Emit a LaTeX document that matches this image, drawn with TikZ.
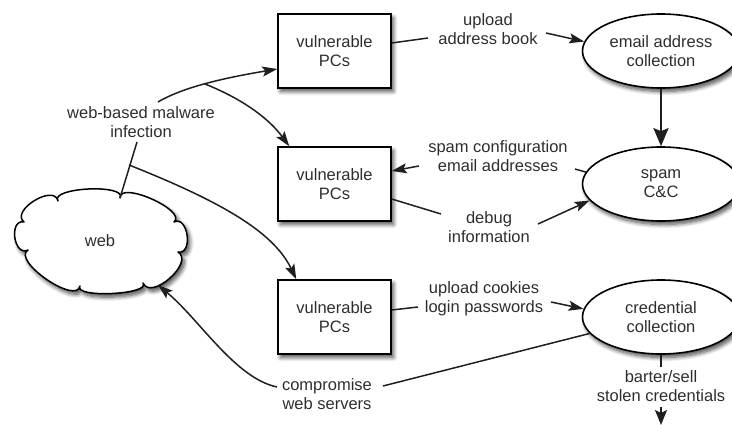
\documentclass[tikz,border=0pt]{standalone}
\usepackage{fontspec}
\setmainfont{Liberation Sans}
\usetikzlibrary{shapes.geometric,arrows.meta,shadows.blur,calc}
\begin{document}
\begin{tikzpicture}[x=1pt,y=-1pt,
  every node/.style={font=\fontsize{16.5}{19}\selectfont, text=black!82},
  shad/.style={blur shadow={shadow xshift=2.5pt,shadow yshift=-3.5pt,shadow blur steps=8,shadow blur radius=4pt,shadow opacity=70}},
  pcbox/.style={draw, line width=1.5pt, fill=white, minimum width=113pt, minimum height=74pt, align=center, shad},
  ell/.style={ellipse, draw, line width=1.6pt, fill=white, minimum width=157pt, minimum height=74pt, align=center, inner sep=0pt, shad},
  cloudline/.style={draw, line width=1.5pt, fill=white, line join=round, shad},
  lbl/.style={align=center, inner sep=0pt},
  conn/.style={line width=1.5pt, draw=black!88},
  arr/.style={conn, -{Stealth[length=15pt,width=10pt,inset=3pt]}},
]
\useasboundingbox (0,0) rectangle (732,425);

% cloud outline (drawn directly)
\path[cloudline] (24,222)
  .. controls (10,210.6) and (54.2,183.4) .. (58,201)
  .. controls (49.3,187.4) and (127.3,183.6) .. (120,198)
  .. controls (119.2,180.1) and (187.8,210.7) .. (174,222)
  .. controls (188.2,215) and (193.5,255) .. (178,252)
  .. controls (195,262.2) and (151,301.2) .. (143,283)
  .. controls (151.6,294.6) and (72.6,298.4) .. (80,286)
  .. controls (76.3,305.5) and (11.1,260.3) .. (28,250)
  .. controls (13.8,257.1) and (8.4,219.1) .. cycle;

% main nodes
\node (web) at (100,241) {web};
\node[pcbox] (box1) at (334.5,51) {vulnerable\\PCs};
\node[pcbox] (box2) at (334.5,184) {vulnerable\\PCs};
\node[pcbox] (box3) at (334.5,317) {vulnerable\\PCs};
\node[ell] (ell1) at (661,51) {email address\\collection};
\node[ell] (ell2) at (661,184) {spam\\C\&C};
\node[ell] (ell3) at (661,317) {credential\\collection};

% labels
\node[lbl] (infect) at (141,122) {web-based malware\\infection};
\node[lbl] (upload) at (488,29) {upload\\address book};
\node[lbl] (spamcfg) at (498,156) {spam configuration\\email addresses};
\node[lbl] (debug) at (489,227) {debug\\information};
\node[lbl] (cookies) at (484,299) {upload cookies\\login passwords};
\node[lbl] (compromise) at (327,394) {compromise\\web servers};
\node[lbl] (barter) at (661,386) {barter/sell\\stolen credentials};

% junction and free-end coordinates
\coordinate (i1) at (158,102);
\coordinate (j1) at (205,84);
\coordinate (i2) at (137,142);
\coordinate (j2) at (129,165);
\coordinate (cloudtop) at (120,198);
\coordinate (cloudbr) at (158,285);
\coordinate (upl) at (428,38);
\coordinate (upr) at (546,33);
\coordinate (scl) at (419,166);
\coordinate (scr) at (575,169);
\coordinate (dbl) at (441,214);
\coordinate (dbr) at (538,224);
\coordinate (ckl) at (418,307);
\coordinate (ckr) at (551,302);
\coordinate (cpl) at (277,387);
\coordinate (cpr) at (383,386);
\coordinate (bat) at (661,367);
\coordinate (bab) at (661,407);
\coordinate (bottom) at (661,425);

% infection connectors
\draw[arr] (i1) .. controls (185,86) and (230,77) .. ($(box1.west)+(0,18)$);
\draw[arr] (j1) .. controls (245,100) and (270,120) .. ($(box2.north west)+(12,0)$);
\draw[conn] (i2) -- (cloudtop);
\draw[arr] (j2) .. controls (230,205) and (275,235) .. ($(box3.north west)+(19,0)$);

% top row
\draw[conn] ($(box1.east)+(0,-8)$) -- (upl);
\draw[arr] (upr) -- (ell1.173);
\draw[-{Stealth[length=18pt,width=15pt,inset=3pt]}, line width=2.6pt, draw=black!88] (ell1.south) -- (ell2.north);

% middle row
\draw[conn] (ell2.171) -- (scr);
\draw[arr] (scl) -- ($(box2.east)+(0,-13)$);
\draw[conn] ($(box2.east)+(0,15)$) -- (dbl);
\draw[arr] (dbr) -- (ell2.193);

% bottom row
\draw[conn] ($(box3.east)+(0,-7)$) -- (ckl);
\draw[arr] (ckr) -- (ell3.174);
\draw[conn] (ell3.193) -- (cpr);
\draw[arr] (cpl) .. controls (235,378) and (200,320) .. (cloudbr);
\draw[conn, line width=2pt] (ell3.south) -- (bat);
\draw[conn, line width=2pt, -{Stealth[length=15pt,width=12pt,inset=3pt]}] (bab) -- (bottom);
\end{tikzpicture}
\end{document}
